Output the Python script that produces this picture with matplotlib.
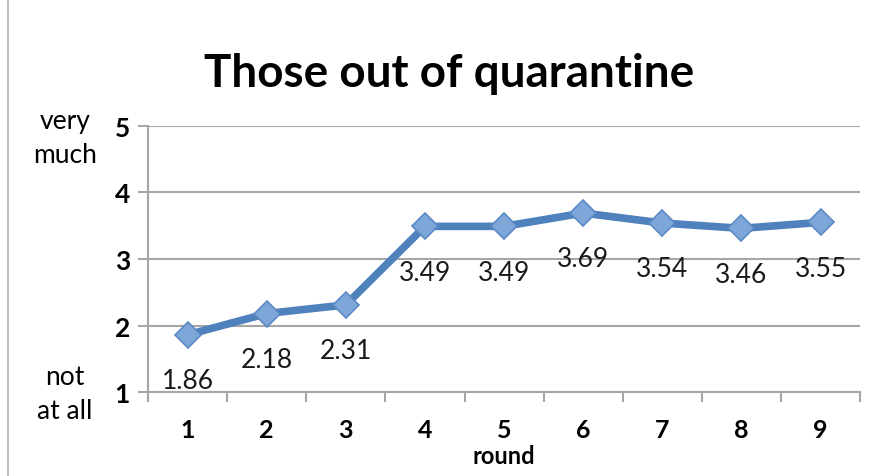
import matplotlib.pyplot as plt
from matplotlib.lines import Line2D

rounds = [1, 2, 3, 4, 5, 6, 7, 8, 9]
means = [1.86, 2.18, 2.31, 3.49, 3.49, 3.69, 3.54, 3.46, 3.55]
y_ticks = [1, 2, 3, 4, 5]

plt.rcParams['font.family'] = ['Lato', 'DejaVu Sans']

fig = plt.figure(figsize=(8.78, 4.77), dpi=100)
ax = fig.add_axes([0.1686, 0.176, 0.811, 0.558])

grid_c = '#a6a6a6'
ax.plot(rounds, means, color='#4f81bd', lw=5.5, zorder=3,
        marker='D', markersize=13, markerfacecolor='#7fa6d8',
        markeredgecolor='#5b8ac6', markeredgewidth=1.2)

for x, v in zip(rounds, means):
    ax.annotate(f'{v:.2f}', (x, v), xytext=(0, -33), textcoords='offset points',
                ha='center', va='center', fontsize=19, color='#1a1a1a')

ax.set_xlim(0.5, 9.5)
ax.set_ylim(1, 5)
ax.set_yticks(y_ticks)
ax.set_yticklabels([str(t) for t in y_ticks], fontweight='bold', fontsize=19)
ax.set_xticks(rounds)
ax.set_xticklabels([str(r) for r in rounds], fontweight='bold', fontsize=18)
ax.set_xticks([r + 0.5 for r in [0] + rounds], minor=True)
ax.tick_params(axis='x', which='major', length=0, pad=19)
ax.tick_params(axis='x', which='minor', length=7, color=grid_c, width=1.5)
ax.tick_params(axis='y', length=7, color=grid_c, width=1.5, pad=6)

ax.grid(axis='y', color=grid_c, lw=1.5)
ax.set_axisbelow(True)
for s in ['top', 'right']:
    ax.spines[s].set_visible(False)
for s in ['left', 'bottom']:
    ax.spines[s].set_color(grid_c)
    ax.spines[s].set_linewidth(1.5)

ax.set_xlabel('round', fontweight='bold', fontsize=17, labelpad=2)

fig.text(0.511, 0.845, 'Those out of quarantine', ha='center', va='center',
         fontsize=33, fontweight='bold')
fig.text(0.074, 0.71, 'very\nmuch', ha='center', va='center', fontsize=19,
         linespacing=1.45)
fig.text(0.074, 0.174, 'not\nat all', ha='center', va='center', fontsize=19,
         linespacing=1.45)

fig.add_artist(Line2D([0.009, 0.009], [0.0, 1.0], color='#bfbfbf', lw=1.5))

fig.savefig('out.png', dpi=100)
